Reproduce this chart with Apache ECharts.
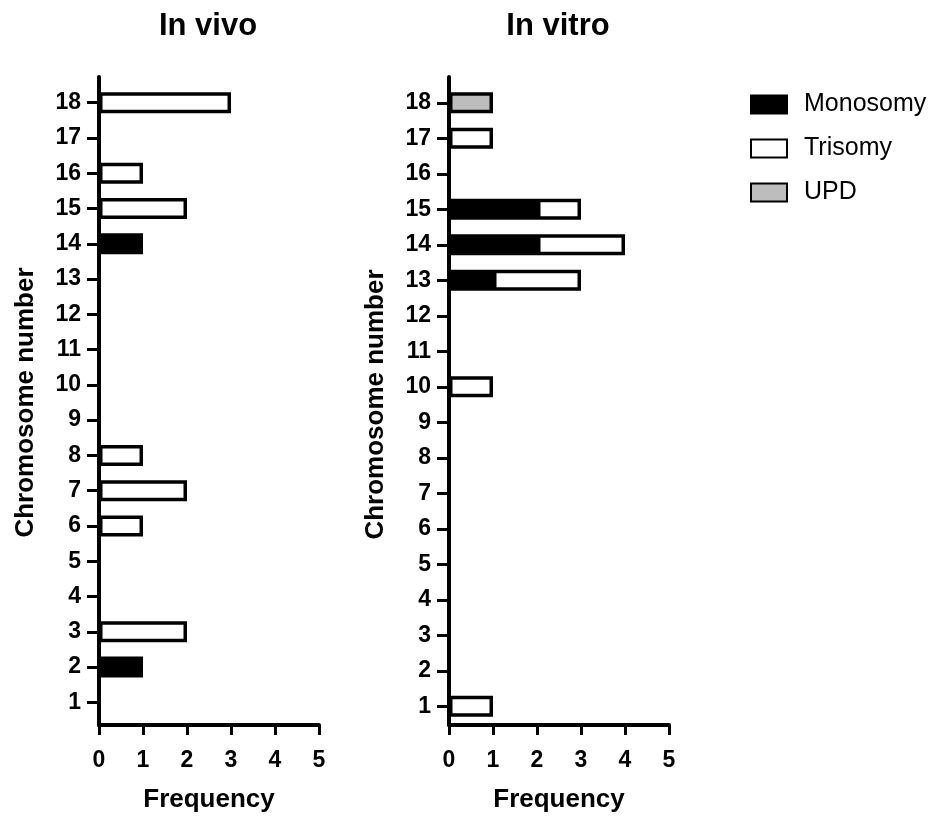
<!DOCTYPE html>
<html>
<head>
<meta charset="utf-8">
<script src="https://cdn.jsdelivr.net/npm/echarts@6/dist/echarts.min.js"></script>
<style>
  html, body { margin: 0; padding: 0; background: #fff; }
  #main { width: 938px; height: 818px; }
</style>
</head>
<body>
<div id="main"></div>
<script>
// 数据
var chromosomes = ['1','2','3','4','5','6','7','8','9','10','11','12','13','14','15','16','17','18'];
var freqTicks = [0, 1, 2, 3, 4, 5];
var seriesNames = ['Monosomy', 'Trisomy', 'UPD'];

var vivoMonosomy = [0,1,0,0,0,0,0,0,0,0,0,0,0,1,0,0,0,0];
var vivoTrisomy  = [0,0,2,0,0,1,2,1,0,0,0,0,0,0,2,1,0,3];
var vivoUPD      = [0,0,0,0,0,0,0,0,0,0,0,0,0,0,0,0,0,0];

var vitroMonosomy = [0,0,0,0,0,0,0,0,0,0,0,0,1,2,2,0,0,0];
var vitroTrisomy  = [1,0,0,0,0,0,0,0,0,1,0,0,2,2,1,0,1,0];
var vitroUPD      = [0,0,0,0,0,0,0,0,0,0,0,0,0,0,0,0,0,1];

var myChart = echarts.init(document.getElementById('main'));
var font = "'Liberation Sans', Arial, sans-serif";

function clean(arr) {
    return arr.map(function (v) { return v === 0 ? '-' : v; });
}

// 两个面板的位置
var panels = [
    { title: 'In vivo', left: 99, lineTop: 77, lineH: 648, barTop: 85, barH: 635, stack: 'vivo',
      data: [vivoMonosomy, vivoTrisomy, vivoUPD] },
    { title: 'In vitro', left: 449, lineTop: 77, lineH: 651, barTop: 85, barH: 639, stack: 'vitro',
      data: [vitroMonosomy, vitroTrisomy, vitroUPD] }
];

var fills = ['#000000', '#ffffff', '#bdbdbd'];

var grids = [], xAxes = [], yAxes = [], series = [], titles = [];

panels.forEach(function (p, i) {
    var gA = grids.length;
    // grid A: axis lines, x ticks
    grids.push({ left: p.left, top: p.lineTop, width: 220, height: p.lineH });
    // grid B: bars
    grids.push({ left: p.left, top: p.barTop, width: 220, height: p.barH });

    xAxes.push({
        gridIndex: gA, type: 'value', min: 0, max: 5, interval: 1,
        axisLine: { show: true, lineStyle: { color: '#000', width: 4 } },
        axisTick: { show: true, length: 10, lineStyle: { color: '#000', width: 3 } },
        axisLabel: { color: '#000', fontSize: 23, fontWeight: 'bold', fontFamily: font, margin: 24 },
        splitLine: { show: false },
        name: 'Frequency', nameLocation: 'middle', nameGap: 62,
        nameTextStyle: { color: '#000', fontSize: 26, fontWeight: 'bold', fontFamily: font }
    });
    yAxes.push({
        gridIndex: gA, type: 'value', min: 0, max: 1,
        axisLine: { show: true, lineStyle: { color: '#000', width: 4 } },
        axisTick: { show: false }, axisLabel: { show: false }, splitLine: { show: false }
    });
    xAxes.push({ gridIndex: gA + 1, type: 'value', min: 0, max: 5, show: false });
    yAxes.push({
        gridIndex: gA + 1, type: 'category', data: chromosomes,
        axisLine: { show: false },
        axisTick: { show: true, alignWithLabel: true, length: 12, lineStyle: { color: '#000', width: 3 } },
        axisLabel: { color: '#000', fontSize: 23, fontWeight: 'bold', fontFamily: font, margin: 18 },
        splitLine: { show: false },
        name: 'Chromosome number', nameLocation: 'middle', nameGap: 60,
        nameTextStyle: { color: '#000', fontSize: 26, fontWeight: 'bold', fontFamily: font }
    });

    seriesNames.forEach(function (n, k) {
        series.push({
            name: n, type: 'bar', stack: p.stack,
            xAxisIndex: gA + 1, yAxisIndex: gA + 1,
            barWidth: 21,
            itemStyle: { color: fills[k], borderColor: '#000', borderWidth: 3.5 },
            data: clean(p.data[k])
        });
    });

    titles.push({
        text: p.title, left: p.left + 104, top: 6, textAlign: 'center',
        textStyle: { color: '#000', fontSize: 31, fontWeight: 'bold', fontFamily: font }
    });
});

var option = {
    backgroundColor: '#fff',
    animation: false,
    title: titles,
    legend: {
        orient: 'vertical', left: 745, top: 87,
        icon: 'rect',
        itemWidth: 36, itemHeight: 18, itemGap: 19,
        data: seriesNames,
        textStyle: { color: '#000', fontSize: 25, fontFamily: font, padding: [0, 0, 0, 12] }
    },
    grid: grids,
    xAxis: xAxes,
    yAxis: yAxes,
    series: series
};

myChart.setOption(option);
</script>
</body>
</html>
